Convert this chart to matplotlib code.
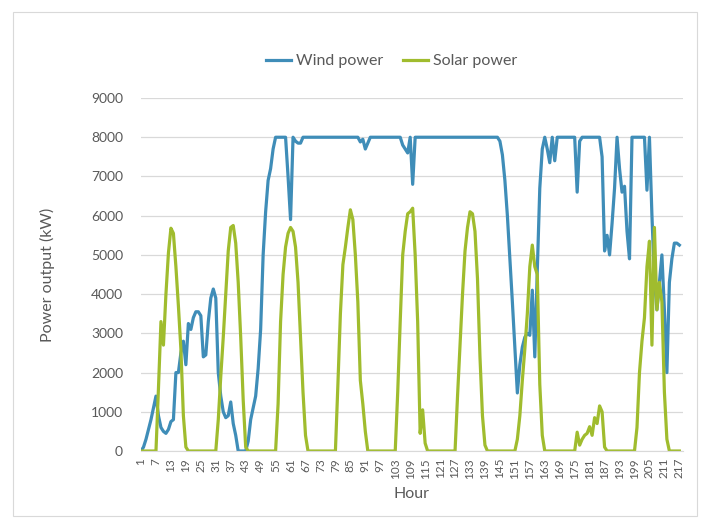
import matplotlib
matplotlib.use('Agg')
import matplotlib.pyplot as plt
from matplotlib.patches import Rectangle

plt.rcParams['font.family'] = ['Lato', 'DejaVu Sans']

hours = list(range(1, 218))

# wind power output (kW), hour 1..217
wind_power = (
    [0, 100, 300, 550, 800, 1100, 1400, 900, 600, 500,
     450, 550, 750, 800, 2000, 2000, 2500, 2800, 2200, 3250,
     3100, 3400, 3550, 3550, 3450, 2400, 2450, 3300, 3900, 4130,
     3900, 2000, 1400, 1000, 850, 900, 1250, 700, 400, 0,
     0, 0, 0, 250, 800, 1100, 1400, 2100, 3100, 5000,
     6100, 6900, 7200, 7700]
    + [8000] * 5
    + [7000, 5900, 8000, 7900, 7850, 7850]
    + [8000] * 23
    + [7880, 7950, 7700, 7850]
    + [8000] * 13
    + [7800, 7700, 7600, 8000, 6800]
    + [8000] * 34
    + [7900, 7550, 6900, 6000, 4900, 3800, 2650, 1480, 2200, 2650,
       2900, 3000, 2950, 4100, 2400, 4600, 6700, 7700, 8000, 7700,
       7350, 8000, 7400]
    + [8000] * 8
    + [6600, 7900]
    + [8000] * 8
    + [7500, 5100, 5500, 5000, 5800, 6700, 8000, 7200, 6600, 6750,
       5600, 4900]
    + [8000] * 6
    + [6650, 8000, 6000, 4400, 3600, 4300, 5000, 3600, 2000, 4300,
       4900, 5300, 5300, 5250]
)

# solar power output (kW), hour 1..217
solar_power = (
    [0] * 7
    + [1600, 3300, 2700, 4000, 5050, 5680, 5550, 4700, 3700, 2600, 900, 100]
    + [0] * 12
    + [800, 1900, 2900, 4000, 5100, 5700, 5750, 5300, 4300, 2900, 1300, 100]
    + [0] * 12
    + [1200, 3300, 4500, 5200, 5550, 5700, 5600, 5200, 4300, 2900, 1500, 400]
    + [0] * 12
    + [1700, 3500, 4750, 5200, 5700, 6150, 5900, 5000, 3800, 1800, 1200, 500]
    + [0] * 12
    + [1500, 3300, 5000, 5600, 6050, 6100, 6190, 5000, 3300, 450, 1050, 200]
    + [0] * 12
    + [1400, 2700, 4000, 5100, 5700, 6100, 6050, 5600, 4400, 2400, 900, 150]
    + [0] * 12
    + [300, 900, 1800, 2600, 3500, 4700, 5250, 4700, 4500, 1700, 400]
    + [0] * 13
    + [480, 150, 300, 400, 450, 620, 400, 850, 700, 1150, 1000, 100]
    + [0] * 12
    + [600, 2000, 2800, 3400, 4700, 5350, 2700, 5700, 3600, 4300, 3800, 1500, 300]
    + [0] * 5
)

x_ticks = list(range(1, 218, 6))
y_ticks = list(range(0, 9001, 1000))

blue = '#3F8DB8'
green = '#A0BC2E'
txt = '#595959'

fig = plt.figure(figsize=(7.04, 5.27), dpi=100)
fig.patches.append(Rectangle((0.018, 0.021), 0.972, 0.957, transform=fig.transFigure,
                             fill=False, edgecolor='#d9d9d9', linewidth=0.8))

ax = fig.add_axes([0.2003, 0.1442, 0.770, 0.6698])
ax.plot(hours, wind_power, color=blue, lw=2.3, label='Wind power', solid_joinstyle='round')
ax.plot(hours, solar_power, color=green, lw=2.3, label='Solar power', solid_joinstyle='round')

ax.set_xlim(1, 218.5)
ax.set_ylim(0, 9000)
ax.set_xticks(x_ticks)
ax.set_xticklabels([str(t) for t in x_ticks], rotation=90, fontsize=8.5, color=txt)
ax.set_yticks(y_ticks)
ax.set_yticklabels([str(t) for t in y_ticks], fontsize=10, color=txt)
ax.tick_params(axis='both', length=0)
ax.tick_params(axis='y', pad=13)
ax.tick_params(axis='x', pad=5)
ax.grid(axis='y', color='#d9d9d9', lw=0.9)
ax.set_axisbelow(True)
for s in ['top', 'right', 'left']:
    ax.spines[s].set_visible(False)
ax.spines['bottom'].set_color('#d9d9d9')

fig.text(0.068, 0.478, 'Power output (kW)', rotation=90, ha='center', va='center',
         fontsize=11.5, color=txt)
fig.text(0.585, 0.062, 'Hour', ha='center', va='center', fontsize=11.5, color=txt)

fig.legend(loc='center', bbox_to_anchor=(0.556, 0.884), ncol=2, frameon=False,
           fontsize=11.5, handlelength=1.6, columnspacing=1.2, handletextpad=0.3,
           labelcolor=txt)

fig.savefig('out.png', dpi=100)
